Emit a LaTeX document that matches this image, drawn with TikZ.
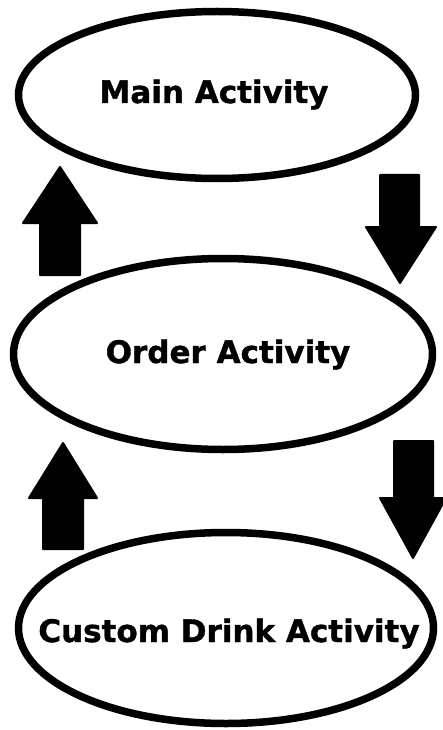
\documentclass[tikz,border=0pt]{standalone}
\usepackage{fontspec}
\setmainfont{DejaVu Sans}[BoldFeatures={FakeBold=1.2}]
\usetikzlibrary{shapes.geometric}
\tikzset{
  activity/.style={ellipse, draw=black, line width=7.5pt, inner sep=0pt},
  acttext/.style={font=\fontsize{31}{36}\selectfont\bfseries, anchor=base},
  blockarrow/.style={fill=black, draw=black, line width=2pt, line join=round}
}
\begin{document}
\begin{tikzpicture}[x=1pt,y=-1pt]
\useasboundingbox (0,0) rectangle (442,730);
\fill[white] (0,0) rectangle (442,730);
\node[activity, minimum width=397pt, minimum height=167pt] (main) at (217,95) {};
\node[activity, minimum width=419pt, minimum height=191pt] (order) at (223,354) {};
\node[activity, minimum width=415pt, minimum height=191pt] (custom) at (226,628) {};
\node[acttext] (maintext) at (214,103) {Main Activity};
\node[acttext] (ordertext) at (228,363) {Order Activity};
\node[acttext] (customtext) at (229,642) {Custom Drink Activity};
% up arrow: order -> main
\draw[blockarrow] (40,275) -- (40,223) -- (23,223) -- (60,167) -- (97,223) -- (80,223) -- (80,275) -- cycle;
% down arrow: main -> order
\draw[blockarrow] (380,175) -- (419,175) -- (419,227) -- (436,227) -- (400,283) -- (366,227) -- (380,227) -- cycle;
% up arrow: custom -> order
\draw[blockarrow] (43,549) -- (43,498) -- (29,498) -- (63,443) -- (97,498) -- (83,498) -- (83,549) -- cycle;
% down arrow: order -> custom
\draw[blockarrow] (394,441) -- (433,441) -- (433,498) -- (446,498) -- (413,558) -- (380,498) -- (394,498) -- cycle;
\end{tikzpicture}
\end{document}
